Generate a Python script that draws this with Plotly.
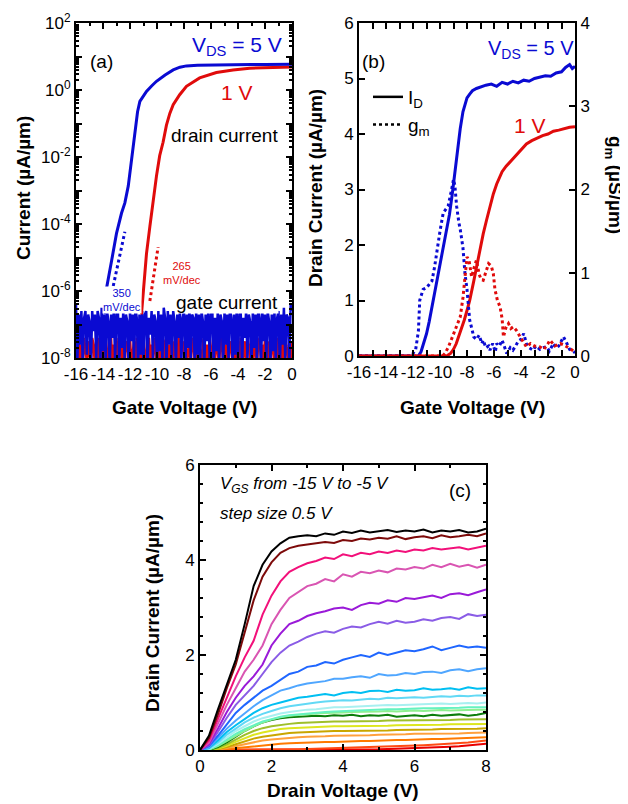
import numpy as np
import plotly.graph_objects as go

W, H = 628, 804
OFF = 8  # page body margin of the browser
FW, FH = W - OFF, H - OFF
FONT = "Liberation Sans, Arial, Helvetica, sans-serif"
BLUE = "#0a0ad2"
RED = "#e00b0b"

# ---------------- Panel (a): transfer curves, log scale ----------------
a_blue_vg = [-13.85, -13.73, -13.36, -13.0, -12.63, -12.38, -12.13, -11.89, -11.64, -11.44,
             -11.27, -11.0, -10.78, -10.4, -10.04, -9.4, -8.8, -8.3, -7.82, -7.0, -6.0,
             -5.0, -4.0, -3.0, -2.0, -1.0, 0.0]
a_blue_logid = [-6.7, -5.9, -5.09, -4.28, -3.68, -3.37, -2.87, -2.06, -1.25, -0.65,
                -0.34, -0.17, -0.04, 0.12, 0.26, 0.45, 0.6, 0.68, 0.72, 0.74, 0.75,
                0.75, 0.76, 0.76, 0.76, 0.77, 0.77]
a_red_vg = [-11.15, -10.98, -10.78, -10.53, -10.29, -10.04, -9.8, -9.55, -9.3, -9.05,
            -8.8, -8.32, -7.82, -6.84, -5.6, -4.37, -3.14, -1.5, 0.0]
a_red_logid = [-6.7, -5.8, -4.89, -4.08, -3.27, -2.57, -1.96, -1.56, -1.05, -0.7,
               -0.44, -0.14, 0.11, 0.36, 0.52, 0.6, 0.65, 0.67, 0.69]
ss_blue_vg = [-13.24, -12.38]
ss_blue_logid = [-5.85, -4.23]
ss_red_vg = [-10.53, -9.92]
ss_red_logid = [-6.3, -4.69]

gate_vg = np.round(np.arange(-16.0, 0.001, 0.1), 2)
gate_blue_log = [
    -6.4, -8.1, -6.7, -7.6, -6.6, -8.2, -6.8, -6.6, -7.9, -6.7,
    -6.9, -8.3, -6.6, -7.2, -6.7, -8.0, -6.6, -6.8, -8.2, -6.5,
    -7.8, -6.7, -8.1, -6.6, -6.9, -8.3, -6.7, -7.4, -6.6, -8.1,
    -6.7, -6.5, -8.2, -6.8, -7.7, -6.6, -8.0, -6.7, -6.9, -8.3,
    -6.6, -7.5, -6.7, -8.1, -6.5, -6.8, -8.2, -6.7, -7.9, -6.6,
    -8.1, -6.7, -6.6, -8.3, -6.8, -7.3, -6.6, -8.0, -6.7, -6.9,
    -8.2, -6.6, -7.8, -6.7, -8.1, -6.5, -6.8, -8.3, -6.6, -7.6,
    -6.7, -8.0, -6.6, -6.9, -8.2, -6.7, -7.4, -6.6, -8.1, -6.8,
    -6.6, -8.3, -6.7, -7.7, -6.5, -8.0, -6.7, -6.8, -8.2, -6.6,
    -7.9, -6.7, -8.1, -6.6, -6.9, -8.3, -6.7, -7.5, -6.6, -8.0,
    -6.7, -6.6, -8.2, -6.8, -7.8, -6.6, -8.1, -6.7, -6.9, -8.3,
    -6.6, -7.6, -6.7, -8.0, -6.5, -6.8, -8.2, -6.7, -7.9, -6.6,
    -8.1, -6.7, -6.6, -8.3, -6.8, -7.4, -6.6, -8.0, -6.7, -6.9,
    -8.2, -6.6, -7.7, -6.7, -8.1, -6.5, -6.8, -8.3, -6.6, -7.5,
    -6.7, -8.0, -6.6, -6.9, -8.2, -6.7, -7.8, -6.6, -8.1, -6.8,
    -6.6, -8.3, -6.7, -7.6, -6.5, -8.0, -6.7, -6.8, -8.2, -6.4,
    -6.6]
gate_red_log = [
    -7.5, -8.2, -7.4, -8.0, -7.6, -8.3, -7.4, -7.7, -8.1, -7.5,
    -7.9, -8.3, -7.4, -7.6, -8.2, -7.5, -8.0, -7.4, -8.3, -7.7,
    -7.5, -8.1, -7.4, -7.8, -8.2, -7.5, -7.4, -8.3, -7.6, -8.0,
    -7.4, -8.2, -7.5, -7.7, -8.1, -7.4, -8.3, -7.6, -7.5, -8.0,
    -7.4, -8.2, -7.8, -7.5, -8.3, -7.4, -7.6, -8.1, -7.5, -8.2,
    -7.4, -7.9, -8.3, -7.5, -7.4, -8.0, -7.6, -8.2, -7.4, -7.7,
    -8.3, -7.5, -8.1, -7.4, -7.8, -8.2, -7.5, -7.4, -8.3, -7.6,
    -8.0, -7.4, -8.2, -7.5, -7.7, -8.1, -7.4, -8.3, -7.6, -7.5,
    -8.0, -7.4, -8.2, -7.8, -7.5, -8.3, -7.4, -7.6, -8.1, -7.5,
    -8.2, -7.4, -7.9, -8.3, -7.5, -7.4, -8.0, -7.6, -8.2, -7.4,
    -7.7, -8.3, -7.5, -8.1, -7.4, -7.8, -8.2, -7.5, -7.4, -8.3,
    -7.6, -8.0, -7.4, -8.2, -7.5, -7.7, -8.1, -7.4, -8.3, -7.6,
    -7.5, -8.0, -7.4, -8.2, -7.8, -7.5, -8.3, -7.4, -7.6, -8.1,
    -7.5, -8.2, -7.4, -7.9, -8.3, -7.5, -7.4, -8.0, -7.6, -8.2,
    -7.4, -7.7, -8.3, -7.5, -8.1, -7.4, -7.8, -8.2, -7.5, -7.4,
    -8.3, -7.6, -8.0, -7.4, -8.2, -7.5, -7.7, -8.1, -7.4, -8.3,
    -7.5]
assert len(gate_blue_log) == len(gate_vg) == len(gate_red_log), (len(gate_blue_log), len(gate_red_log), len(gate_vg))

# ---------------- Panel (b): linear transfer + transconductance ----------------
b_blue_vg = [-16, -11.6, -11.4, -11.2, -11.0, -10.8, -10.5, -10.2, -10.0, -9.8, -9.5, -9.3,
             -9.1, -8.9, -8.7, -8.5, -8.3, -8.1, -8.0, -7.8, -7.6, -7.3, -7.0, -6.6, -6.2,
             -5.8, -5.4, -5.0, -4.6, -4.2, -3.8, -3.4, -3.0, -2.6, -2.2, -1.8, -1.4, -1.0,
             -0.7, -0.4, -0.2, 0]
b_blue_id = [0, 0, 0.08, 0.22, 0.4, 0.62, 1.0, 1.35, 1.6, 1.85, 2.25, 2.55,
             2.9, 3.3, 3.75, 4.1, 4.4, 4.58, 4.65, 4.72, 4.78, 4.82, 4.85, 4.88, 4.9,
             4.86, 4.93, 4.9, 4.95, 4.92, 4.97, 4.95, 5.0, 5.02, 5.05, 5.04, 5.1, 5.12,
             5.2, 5.25, 5.18, 5.22]
b_red_vg = [-16, -9.5, -9.2, -9.0, -8.8, -8.5, -8.2, -8.0, -7.8, -7.5, -7.2, -7.0, -6.8,
            -6.55, -6.3, -6.05, -5.8, -5.6, -5.4, -5.1, -4.8, -4.5, -4.2, -3.9, -3.6, -3.2,
            -2.8, -2.4, -2.0, -1.6, -1.2, -0.8, -0.4, 0]
b_red_id = [0, 0, 0.05, 0.12, 0.22, 0.42, 0.65, 0.82, 1.0, 1.35, 1.72, 1.95, 2.2,
            2.45, 2.7, 2.92, 3.1, 3.22, 3.32, 3.42, 3.5, 3.58, 3.65, 3.75, 3.82, 3.88,
            3.93, 3.97, 4.0, 4.05, 4.07, 4.1, 4.12, 4.13]
b_blue_gm_vg = [-16, -12.2, -12.0, -11.8, -11.6, -11.5, -11.25, -11.0, -10.75, -10.6, -10.4,
                -10.2, -10.0, -9.76, -9.6, -9.4, -9.2, -9.0, -8.9, -8.77, -8.6, -8.5, -8.3,
                -8.15, -8.0, -7.8, -7.6, -7.5, -7.3, -7.1, -6.9, -6.8, -6.6, -6.4, -6.3,
                -6.1, -5.9, -5.8, -5.6, -5.4, -5.2, -5.06, -4.8, -4.6, -4.4, -4.2, -4.0,
                -3.8, -3.6, -3.4, -3.1, -2.9, -2.6, -2.4, -2.1, -1.9, -1.6, -1.4, -1.2,
                -1.0, -0.85, -0.6, -0.4, -0.1, 0]
b_blue_gm = [0, 0, 0.03, 0.08, 0.3, 0.67, 0.8, 0.82, 0.87, 0.9, 1.07,
             1.3, 1.5, 1.72, 1.75, 1.8, 1.95, 2.12, 2.05, 1.8, 1.6, 1.52, 1.3,
             0.99, 0.8, 0.43, 0.3, 0.23, 0.2, 0.25, 0.15, 0.19, 0.1, 0.12, 0.07,
             0.15, 0.05, 0.15, 0.12, 0.19, 0.1, 0.03, 0.1, 0.07, 0.12, 0.18, 0.2,
             0.27, 0.15, 0.1, 0.07, 0.12, 0.08, 0.1, 0.11, 0.06, 0.15, 0.1, 0.12,
             0.18, 0.23, 0.15, 0.08, 0.05, 0.04]
b_red_gm_vg = [-16, -9.8, -9.64, -9.4, -9.2, -9.0, -8.8, -8.5, -8.3, -8.15, -8.0, -7.85,
               -7.66, -7.5, -7.3, -7.1, -6.95, -6.8, -6.6, -6.4, -6.2, -6.05, -5.93, -5.75,
               -5.55, -5.4, -5.3, -5.1, -4.93, -4.75, -4.57, -4.3, -4.07, -3.85, -3.6,
               -3.3, -3.0, -2.6, -2.3, -2.0, -1.85, -1.5, -1.1, -0.8, -0.5, -0.3, -0.1, 0]
b_red_gm = [0, 0, 0.03, 0.1, 0.18, 0.27, 0.35, 0.47, 0.7, 0.95, 1.19, 1.15,
            0.95, 1.05, 1.15, 0.98, 0.92, 0.91, 1.0, 1.11, 1.08, 0.99, 0.8, 0.67,
            0.59, 0.45, 0.23, 0.35, 0.39, 0.33, 0.35, 0.3, 0.23, 0.18, 0.11,
            0.15, 0.12, 0.11, 0.08, 0.15, 0.19, 0.12, 0.15, 0.13, 0.1, 0.07, 0.05, 0.05]

# ---------------- Panel (c): output curves ----------------
vd = [0, 0.25, 0.5, 0.75, 1, 1.25, 1.5, 1.75, 2, 2.25, 2.5, 2.75, 3, 3.25, 3.5, 3.75, 4,
      4.25, 4.5, 4.75, 5, 5.25, 5.5, 5.75, 6, 6.25, 6.5, 6.75, 7, 7.25, 7.5, 7.75, 8]
vgs_labels = [-15.0, -14.5, -14.0, -13.5, -13.0, -12.5, -12.0, -11.5, -11.0, -10.5, -10.0,
              -9.5, -9.0, -8.5, -8.0, -7.5, -7.0, -6.5, -6.0, -5.5, -5.0]
id_m15_0 = [0, 0.3, 0.85, 1.38, 1.9, 2.65, 3.45, 3.9, 4.18, 4.35, 4.47, 4.5, 4.52, 4.5, 4.56, 4.53, 4.6, 4.57, 4.62, 4.58, 4.6, 4.63, 4.59, 4.62, 4.6, 4.64, 4.58, 4.62, 4.6, 4.63, 4.58, 4.6, 4.66]
id_m14_5 = [0, 0.25, 0.75, 1.3, 1.8, 2.45, 3.15, 3.65, 3.95, 4.15, 4.25, 4.3, 4.33, 4.35, 4.38, 4.36, 4.42, 4.4, 4.45, 4.43, 4.47, 4.45, 4.5, 4.44, 4.48, 4.5, 4.46, 4.52, 4.48, 4.5, 4.53, 4.5, 4.56]
id_m14_0 = [0, 0.2, 0.65, 1.1, 1.55, 1.95, 2.3, 2.85, 3.25, 3.55, 3.75, 3.85, 3.93, 3.98, 4.05, 4.02, 4.12, 4.08, 4.15, 4.12, 4.18, 4.15, 4.2, 4.17, 4.22, 4.2, 4.25, 4.22, 4.24, 4.27, 4.22, 4.26, 4.3]
id_m13_5 = [0, 0.15, 0.55, 0.95, 1.3, 1.65, 1.9, 2.2, 2.65, 2.95, 3.2, 3.33, 3.45, 3.5, 3.6, 3.55, 3.7, 3.65, 3.75, 3.72, 3.78, 3.74, 3.82, 3.8, 3.85, 3.82, 3.9, 3.85, 3.92, 3.86, 3.9, 3.84, 3.9]
id_m13_0 = [0, 0.12, 0.45, 0.8, 1.1, 1.35, 1.55, 1.8, 2.2, 2.45, 2.65, 2.72, 2.82, 2.88, 2.92, 2.98, 3.0, 2.95, 3.05, 3.1, 3.08, 3.15, 3.12, 3.2, 3.18, 3.22, 3.25, 3.2, 3.28, 3.3, 3.26, 3.32, 3.38]
id_m12_5 = [0, 0.1, 0.38, 0.68, 0.95, 1.15, 1.35, 1.6, 1.85, 2.05, 2.2, 2.28, 2.38, 2.45, 2.5, 2.47, 2.55, 2.6, 2.58, 2.65, 2.7, 2.66, 2.72, 2.68, 2.7, 2.75, 2.72, 2.78, 2.8, 2.76, 2.86, 2.82, 2.85]
id_m12_0 = [0, 0.08, 0.3, 0.55, 0.78, 0.95, 1.1, 1.25, 1.35, 1.48, 1.6, 1.65, 1.75, 1.78, 1.85, 1.82, 1.9, 1.95, 2.0, 1.96, 2.05, 2.0, 2.05, 2.1, 2.08, 2.12, 2.18, 2.1, 2.15, 2.2, 2.16, 2.18, 2.15]
id_m11_5 = [0, 0.05, 0.25, 0.45, 0.62, 0.78, 0.92, 1.05, 1.15, 1.25, 1.3, 1.36, 1.4, 1.43, 1.45, 1.5, 1.5, 1.53, 1.55, 1.52, 1.6, 1.57, 1.58, 1.62, 1.6, 1.64, 1.65, 1.62, 1.68, 1.7, 1.66, 1.7, 1.72]
id_m11_0 = [0, 0.04, 0.2, 0.38, 0.52, 0.65, 0.78, 0.88, 0.95, 1.0, 1.05, 1.1, 1.12, 1.15, 1.18, 1.15, 1.2, 1.22, 1.2, 1.24, 1.25, 1.22, 1.27, 1.25, 1.26, 1.3, 1.27, 1.28, 1.3, 1.27, 1.32, 1.29, 1.3]
id_m10_5 = [0, 0.03, 0.16, 0.32, 0.45, 0.58, 0.68, 0.76, 0.82, 0.88, 0.92, 0.95, 0.98, 1.0, 1.02, 1.03, 1.05, 1.04, 1.06, 1.08, 1.07, 1.1, 1.09, 1.1, 1.11, 1.1, 1.12, 1.13, 1.12, 1.14, 1.13, 1.15, 1.15]
id_m10_0 = [0, 0.02, 0.13, 0.27, 0.4, 0.5, 0.6, 0.67, 0.72, 0.77, 0.8, 0.83, 0.85, 0.86, 0.88, 0.9, 0.9, 0.91, 0.92, 0.93, 0.93, 0.95, 0.94, 0.95, 0.96, 0.96, 0.97, 0.98, 0.97, 0.98, 0.99, 0.98, 1.0]
id_m9_5 = [0, 0.01, 0.1, 0.22, 0.34, 0.44, 0.52, 0.6, 0.65, 0.7, 0.73, 0.75, 0.77, 0.79, 0.8, 0.81, 0.82, 0.83, 0.84, 0.84, 0.85, 0.86, 0.86, 0.87, 0.87, 0.88, 0.88, 0.88, 0.89, 0.89, 0.9, 0.9, 0.9]
id_m9_0 = [0, 0.01, 0.08, 0.19, 0.3, 0.4, 0.5, 0.58, 0.64, 0.69, 0.72, 0.74, 0.76, 0.77, 0.78, 0.78, 0.79, 0.8, 0.8, 0.81, 0.81, 0.82, 0.81, 0.82, 0.83, 0.82, 0.83, 0.84, 0.83, 0.84, 0.84, 0.85, 0.85]
id_m8_5 = [0, 0, 0.06, 0.16, 0.28, 0.4, 0.5, 0.58, 0.63, 0.67, 0.69, 0.7, 0.71, 0.72, 0.71, 0.73, 0.72, 0.74, 0.71, 0.73, 0.72, 0.74, 0.7, 0.72, 0.73, 0.71, 0.74, 0.72, 0.73, 0.75, 0.72, 0.74, 0.78]
id_m8_0 = [0, 0, 0.04, 0.12, 0.22, 0.32, 0.4, 0.46, 0.5, 0.53, 0.55, 0.57, 0.58, 0.58, 0.59, 0.6, 0.6, 0.6, 0.61, 0.6, 0.61, 0.62, 0.62, 0.62, 0.62, 0.63, 0.63, 0.63, 0.63, 0.64, 0.64, 0.64, 0.65]
id_m7_5 = [0, 0, 0.03, 0.09, 0.17, 0.25, 0.32, 0.37, 0.41, 0.44, 0.46, 0.47, 0.48, 0.48, 0.49, 0.5, 0.5, 0.5, 0.5, 0.51, 0.51, 0.51, 0.52, 0.52, 0.52, 0.52, 0.53, 0.53, 0.54, 0.54, 0.54, 0.55, 0.55]
id_m7_0 = [0, 0, 0.02, 0.06, 0.12, 0.18, 0.24, 0.28, 0.31, 0.34, 0.36, 0.37, 0.38, 0.38, 0.39, 0.4, 0.4, 0.4, 0.41, 0.41, 0.41, 0.41, 0.42, 0.42, 0.43, 0.43, 0.43, 0.44, 0.44, 0.44, 0.45, 0.45, 0.46]
id_m6_5 = [0, 0, 0.01, 0.04, 0.08, 0.12, 0.16, 0.2, 0.22, 0.24, 0.26, 0.27, 0.28, 0.28, 0.29, 0.3, 0.3, 0.3, 0.31, 0.31, 0.32, 0.32, 0.33, 0.33, 0.34, 0.34, 0.34, 0.35, 0.35, 0.35, 0.36, 0.36, 0.37]
id_m6_0 = [0, 0, 0, 0.02, 0.04, 0.06, 0.08, 0.1, 0.12, 0.13, 0.14, 0.15, 0.16, 0.16, 0.17, 0.17, 0.18, 0.18, 0.19, 0.19, 0.2, 0.2, 0.21, 0.21, 0.22, 0.22, 0.23, 0.23, 0.24, 0.25, 0.26, 0.26, 0.27]
id_m5_5 = [0, 0, 0, 0, 0, 0, 0, 0, 0, 0.005, 0.01, 0.015, 0.02, 0.025, 0.03, 0.035, 0.04, 0.045, 0.05, 0.055, 0.06, 0.065, 0.07, 0.08, 0.09, 0.1, 0.11, 0.12, 0.13, 0.15, 0.16, 0.18, 0.2]
id_m5_0 = [0, 0, 0, 0, 0, 0, 0, 0, 0, 0, 0, 0, 0, 0, 0, 0, 0, 0.003, 0.006, 0.01, 0.014, 0.02, 0.025, 0.03, 0.036, 0.043, 0.05, 0.06, 0.07, 0.08, 0.095, 0.11, 0.13]
c_curves = [id_m15_0, id_m14_5, id_m14_0, id_m13_5, id_m13_0, id_m12_5, id_m12_0, id_m11_5,
            id_m11_0, id_m10_5, id_m10_0, id_m9_5, id_m9_0, id_m8_5, id_m8_0, id_m7_5,
            id_m7_0, id_m6_5, id_m6_0, id_m5_5, id_m5_0]
c_colors = ["#000000", "#7d0a0a", "#f2107a", "#d955b2", "#9a1ad8", "#8a5ce6", "#1f66ff",
            "#4fa6ff", "#00bff2", "#62d9f5", "#a8f0f0", "#66f2c0", "#8ef08e", "#0b7d0b",
            "#9fbf2a", "#dde61e", "#c9a600", "#ffa03c", "#ff7a00", "#ff4a14", "#e80000"]
for i, c in enumerate(c_curves):
    assert len(c) == len(vd), (i, len(c))

vg_ticks = list(range(-16, 1, 2))
vg_ticktext = [str(v) for v in vg_ticks]          # plain hyphen minus, as in the reference
vg_minor = list(range(-15, 0, 2))

# ---------------- Figure ----------------
fig = go.Figure()

def X(p):
    return (p - OFF) / FW

def Y(p):
    return 1 - (p - OFF) / FH

# panel (a)
fig.add_trace(go.Scatter(x=gate_vg, y=[10 ** v for v in gate_red_log], mode="lines",
                         line=dict(color=RED, width=2.5), xaxis="x", yaxis="y", showlegend=False))
fig.add_trace(go.Scatter(x=gate_vg, y=[10 ** v for v in gate_blue_log], mode="lines",
                         line=dict(color=BLUE, width=2.5), xaxis="x", yaxis="y", showlegend=False))
fig.add_trace(go.Scatter(x=a_red_vg, y=[10 ** v for v in a_red_logid], mode="lines",
                         line=dict(color=RED, width=3), xaxis="x", yaxis="y", showlegend=False))
fig.add_trace(go.Scatter(x=a_blue_vg, y=[10 ** v for v in a_blue_logid], mode="lines",
                         line=dict(color=BLUE, width=3), xaxis="x", yaxis="y", showlegend=False))
fig.add_trace(go.Scatter(x=ss_blue_vg, y=[10 ** v for v in ss_blue_logid], mode="lines",
                         line=dict(color=BLUE, width=3, dash="dot"), xaxis="x", yaxis="y", showlegend=False))
fig.add_trace(go.Scatter(x=ss_red_vg, y=[10 ** v for v in ss_red_logid], mode="lines",
                         line=dict(color=RED, width=3, dash="dot"), xaxis="x", yaxis="y", showlegend=False))

# panel (b)
fig.add_trace(go.Scatter(x=b_blue_gm_vg, y=b_blue_gm, mode="lines",
                         line=dict(color=BLUE, width=3, dash="dot"), xaxis="x2", yaxis="y3", showlegend=False))
fig.add_trace(go.Scatter(x=b_red_gm_vg, y=b_red_gm, mode="lines",
                         line=dict(color=RED, width=3, dash="dot"), xaxis="x2", yaxis="y3", showlegend=False))
fig.add_trace(go.Scatter(x=b_blue_vg, y=b_blue_id, mode="lines",
                         line=dict(color=BLUE, width=3), xaxis="x2", yaxis="y2", showlegend=False))
fig.add_trace(go.Scatter(x=b_red_vg, y=b_red_id, mode="lines",
                         line=dict(color=RED, width=3), xaxis="x2", yaxis="y2", showlegend=False))
# legend entries
fig.add_trace(go.Scatter(x=[None], y=[None], mode="lines", name="I<sub>D</sub>",
                         line=dict(color="black", width=2.5), xaxis="x2", yaxis="y2"))
fig.add_trace(go.Scatter(x=[None], y=[None], mode="lines", name="g<sub>m</sub>",
                         line=dict(color="black", width=2.5, dash="dot"), xaxis="x2", yaxis="y2"))

# panel (c)
for ids, col in reversed(list(zip(c_curves, c_colors))):
    fig.add_trace(go.Scatter(x=vd, y=ids, mode="lines", line=dict(color=col, width=2),
                             xaxis="x3", yaxis="y4", showlegend=False))


def ax(**kw):
    base = dict(showline=True, linecolor="black", linewidth=2, ticks="inside", ticklen=6,
                tickwidth=1.5, tickcolor="black", showgrid=False, zeroline=False,
                automargin=False, tickangle=0,
                tickfont=dict(family=FONT, size=17, color="black"))
    base.update(kw)
    return base


minor_log = [k * 10.0 ** d for d in range(-8, 2) for k in range(2, 10)]
decades = [10.0 ** d for d in range(-8, 3)]
decade_text = ["10<sup>%d</sup>" % d if d % 2 == 0 else "" for d in range(-8, 3)]

fig.update_layout(
    template="none",
    width=FW, height=FH, margin=dict(l=0, r=0, t=0, b=0, pad=0),
    paper_bgcolor="white", plot_bgcolor="white",
    font=dict(family=FONT, color="black"),
    showlegend=True,
    legend=dict(x=X(368), y=Y(78), xanchor="left", yanchor="top", bgcolor="rgba(0,0,0,0)",
                font=dict(family=FONT, size=19, color="black"), itemwidth=30, tracegroupgap=0),
    xaxis=ax(domain=[X(76), X(292)], anchor="y", range=[-16, 0], tickvals=vg_ticks,
             ticktext=vg_ticktext, mirror="allticks",
             minor=dict(tickmode="array", tickvals=vg_minor, ticks="inside", ticklen=3, tickcolor="black")),
    yaxis=ax(domain=[Y(358), Y(23)], anchor="x", type="log", range=[-8, 2], tickvals=decades,
             ticktext=decade_text, mirror="allticks",
             minor=dict(tickmode="array", tickvals=minor_log, ticks="inside", ticklen=3, tickcolor="black")),
    xaxis2=ax(domain=[X(359), X(575)], anchor="y2", range=[-16, 0], tickvals=vg_ticks,
              ticktext=vg_ticktext, mirror="allticks",
              minor=dict(tickmode="array", tickvals=vg_minor, ticks="inside", ticklen=3, tickcolor="black")),
    yaxis2=ax(domain=[Y(356), Y(23)], anchor="x2", range=[0, 6], dtick=1),
    yaxis3=ax(overlaying="y2", side="right", anchor="x2", range=[0, 4], dtick=1),
    xaxis3=ax(domain=[X(200), X(486)], anchor="y4", range=[0, 8], dtick=2, mirror="allticks",
              minor=dict(dtick=1, ticks="inside", ticklen=3, tickcolor="black")),
    yaxis4=ax(domain=[Y(750), Y(465)], anchor="x3", range=[0, 6], dtick=2, mirror="allticks",
              minor=dict(dtick=0.4, ticks="inside", ticklen=3, tickcolor="black")),
)

ann = []

def txt(text, x, y, size, color="black", xanchor="center", angle=0, bold=False, bg=None):
    d = dict(text=("<b>%s</b>" % text) if bold else text, x=X(x), y=Y(y), xref="paper",
             yref="paper", xanchor=xanchor, yanchor="middle", showarrow=False,
             textangle=angle, font=dict(family=FONT, size=size, color=color))
    if bg:
        d["bgcolor"] = bg
        d["borderpad"] = 0
    ann.append(d)

# axis titles
txt("Current (µA/µm)", 24, 188, 19, angle=-90, bold=True)
txt("Gate Voltage (V)", 184, 408, 19, bold=True)
txt("Drain Current (µA/µm)", 316, 188, 19, angle=-90, bold=True)
txt("g<sub>m</sub> (µS/µm)", 614, 185, 19, angle=90, bold=True)
txt("Gate Voltage (V)", 472, 407, 19, bold=True)
txt("Drain Current (µA/µm)", 152, 613, 19, angle=-90, bold=True)
txt("Drain Voltage (V)", 343, 790, 19, bold=True)

# panel (a) labels
txt("(a)", 101, 61, 19)
txt("V<sub>DS</sub> = 5 V", 190, 46, 21, color=BLUE, xanchor="left")
txt("1 V", 219, 93, 21, color=RED, xanchor="left")
txt("drain current", 169, 135, 19, xanchor="left")
txt("gate current", 175, 302, 19, xanchor="left", bg="white")
txt("350<br>mV/dec", 102, 300, 11, color=BLUE, xanchor="left", bg="white")
txt("265<br>mV/dec", 161, 273, 11, color=RED, xanchor="left")

# panel (b) labels
txt("(b)", 373, 61, 19)
txt("V<sub>DS</sub> = 5 V", 486, 50, 20, color=BLUE, xanchor="left")
txt("1 V", 512, 125, 21, color=RED, xanchor="left")

# panel (c) labels
txt("<i>V<sub>GS</sub> from -15 V to -5 V</i>", 218, 485, 17, xanchor="left")
txt("<i>step size 0.5 V</i>", 218, 513, 17, xanchor="left")
txt("(c)", 460, 490, 19)

fig.update_layout(annotations=ann)
fig.write_html("out.html")
